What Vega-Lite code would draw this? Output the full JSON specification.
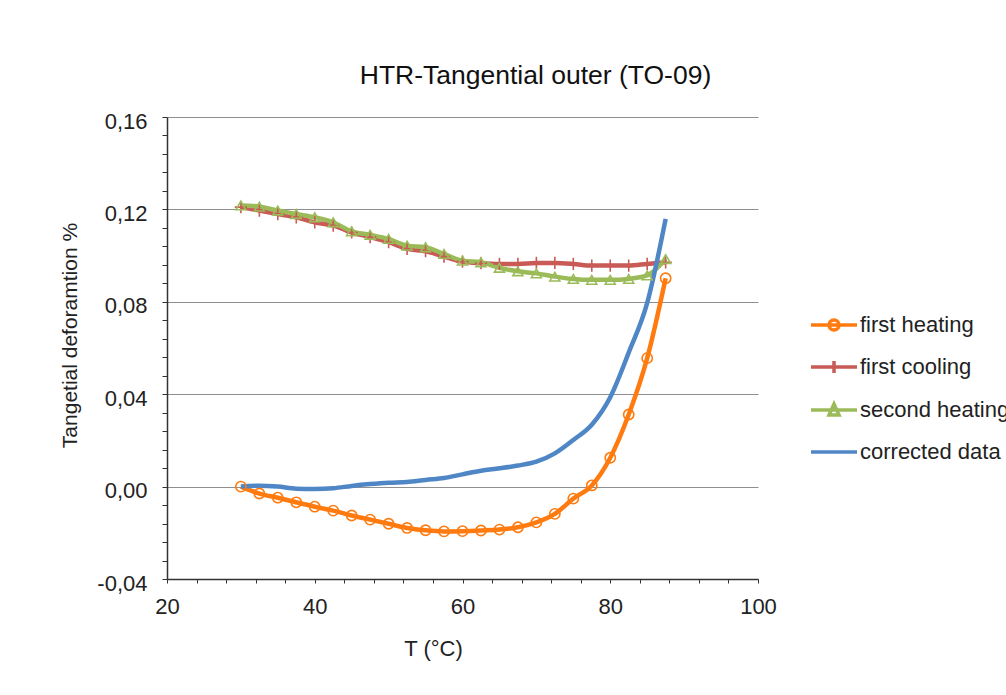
{
  "$schema": "https://vega.github.io/schema/vega-lite/v6.json",
  "width": 591,
  "height": 462,
  "autosize": {"type": "none"},
  "padding": {"left": 167, "top": 117, "right": 248, "bottom": 116},
  "background": "white",
  "config": {
    "view": {"stroke": null},
    "font": "Liberation Sans"
  },
  "title": {
    "text": "HTR-Tangential outer (TO-09)",
    "fontSize": 26.5,
    "fontWeight": "normal",
    "color": "#111",
    "font": "Liberation Sans",
    "anchor": "middle",
    "dx": 73,
    "offset": 21
  },
  "data": {
    "values": [
      {"T": 30, "v": 0.0000, "s": "first heating"},
      {"T": 32.5, "v": -0.0030, "s": "first heating"},
      {"T": 35, "v": -0.0048, "s": "first heating"},
      {"T": 37.5, "v": -0.0068, "s": "first heating"},
      {"T": 40, "v": -0.0087, "s": "first heating"},
      {"T": 42.5, "v": -0.0104, "s": "first heating"},
      {"T": 45, "v": -0.0125, "s": "first heating"},
      {"T": 47.5, "v": -0.0143, "s": "first heating"},
      {"T": 50, "v": -0.0161, "s": "first heating"},
      {"T": 52.5, "v": -0.0179, "s": "first heating"},
      {"T": 55, "v": -0.0189, "s": "first heating"},
      {"T": 57.5, "v": -0.0194, "s": "first heating"},
      {"T": 60, "v": -0.0193, "s": "first heating"},
      {"T": 62.5, "v": -0.0190, "s": "first heating"},
      {"T": 65, "v": -0.0186, "s": "first heating"},
      {"T": 67.5, "v": -0.0176, "s": "first heating"},
      {"T": 70, "v": -0.0155, "s": "first heating"},
      {"T": 72.5, "v": -0.0118, "s": "first heating"},
      {"T": 75, "v": -0.0052, "s": "first heating"},
      {"T": 77.5, "v": 0.0005, "s": "first heating"},
      {"T": 80, "v": 0.0125, "s": "first heating"},
      {"T": 82.5, "v": 0.0312, "s": "first heating"},
      {"T": 85, "v": 0.0556, "s": "first heating"},
      {"T": 87.5, "v": 0.0902, "s": "first heating"},

      {"T": 30, "v": 0.1210, "s": "first cooling"},
      {"T": 32.5, "v": 0.1195, "s": "first cooling"},
      {"T": 35, "v": 0.1180, "s": "first cooling"},
      {"T": 37.5, "v": 0.1166, "s": "first cooling"},
      {"T": 40, "v": 0.1144, "s": "first cooling"},
      {"T": 42.5, "v": 0.1130, "s": "first cooling"},
      {"T": 45, "v": 0.1100, "s": "first cooling"},
      {"T": 47.5, "v": 0.1080, "s": "first cooling"},
      {"T": 50, "v": 0.1058, "s": "first cooling"},
      {"T": 52.5, "v": 0.1029, "s": "first cooling"},
      {"T": 55, "v": 0.1019, "s": "first cooling"},
      {"T": 57.5, "v": 0.0996, "s": "first cooling"},
      {"T": 60, "v": 0.0974, "s": "first cooling"},
      {"T": 62.5, "v": 0.0967, "s": "first cooling"},
      {"T": 65, "v": 0.0964, "s": "first cooling"},
      {"T": 67.5, "v": 0.0964, "s": "first cooling"},
      {"T": 70, "v": 0.0968, "s": "first cooling"},
      {"T": 72.5, "v": 0.0968, "s": "first cooling"},
      {"T": 75, "v": 0.0964, "s": "first cooling"},
      {"T": 77.5, "v": 0.0957, "s": "first cooling"},
      {"T": 80, "v": 0.0957, "s": "first cooling"},
      {"T": 82.5, "v": 0.0957, "s": "first cooling"},
      {"T": 85, "v": 0.0964, "s": "first cooling"},
      {"T": 87.5, "v": 0.0971, "s": "first cooling"},

      {"T": 30, "v": 0.1217, "s": "second heating"},
      {"T": 32.5, "v": 0.1212, "s": "second heating"},
      {"T": 35, "v": 0.1195, "s": "second heating"},
      {"T": 37.5, "v": 0.1180, "s": "second heating"},
      {"T": 40, "v": 0.1166, "s": "second heating"},
      {"T": 42.5, "v": 0.1144, "s": "second heating"},
      {"T": 45, "v": 0.1105, "s": "second heating"},
      {"T": 47.5, "v": 0.1090, "s": "second heating"},
      {"T": 50, "v": 0.1072, "s": "second heating"},
      {"T": 52.5, "v": 0.1043, "s": "second heating"},
      {"T": 55, "v": 0.1036, "s": "second heating"},
      {"T": 57.5, "v": 0.1007, "s": "second heating"},
      {"T": 60, "v": 0.0978, "s": "second heating"},
      {"T": 62.5, "v": 0.0971, "s": "second heating"},
      {"T": 65, "v": 0.0947, "s": "second heating"},
      {"T": 67.5, "v": 0.0932, "s": "second heating"},
      {"T": 70, "v": 0.0923, "s": "second heating"},
      {"T": 72.5, "v": 0.0909, "s": "second heating"},
      {"T": 75, "v": 0.0899, "s": "second heating"},
      {"T": 77.5, "v": 0.0895, "s": "second heating"},
      {"T": 80, "v": 0.0895, "s": "second heating"},
      {"T": 82.5, "v": 0.0899, "s": "second heating"},
      {"T": 85, "v": 0.0914, "s": "second heating"},
      {"T": 87.5, "v": 0.0985, "s": "second heating"},

      {"T": 30, "v": 0.0000, "s": "corrected data"},
      {"T": 32.5, "v": 0.0004, "s": "corrected data"},
      {"T": 35, "v": 0.0000, "s": "corrected data"},
      {"T": 37.5, "v": -0.0009, "s": "corrected data"},
      {"T": 40, "v": -0.0010, "s": "corrected data"},
      {"T": 42.5, "v": -0.0007, "s": "corrected data"},
      {"T": 45, "v": 0.0003, "s": "corrected data"},
      {"T": 47.5, "v": 0.0011, "s": "corrected data"},
      {"T": 50, "v": 0.0017, "s": "corrected data"},
      {"T": 52.5, "v": 0.0020, "s": "corrected data"},
      {"T": 55, "v": 0.0029, "s": "corrected data"},
      {"T": 57.5, "v": 0.0037, "s": "corrected data"},
      {"T": 60, "v": 0.0053, "s": "corrected data"},
      {"T": 62.5, "v": 0.0069, "s": "corrected data"},
      {"T": 65, "v": 0.0079, "s": "corrected data"},
      {"T": 67.5, "v": 0.0091, "s": "corrected data"},
      {"T": 70, "v": 0.0108, "s": "corrected data"},
      {"T": 72.5, "v": 0.0144, "s": "corrected data"},
      {"T": 75, "v": 0.0202, "s": "corrected data"},
      {"T": 77.5, "v": 0.0268, "s": "corrected data"},
      {"T": 80, "v": 0.0387, "s": "corrected data"},
      {"T": 82.5, "v": 0.0580, "s": "corrected data"},
      {"T": 85, "v": 0.0795, "s": "corrected data"},
      {"T": 87.5, "v": 0.1159, "s": "corrected data"}
    ]
  },
  "encoding": {
    "x": {
      "field": "T",
      "type": "quantitative",
      "scale": {"domain": [20, 100], "nice": false, "zero": false},
      "axis": {
        "title": "T (°C)",
        "values": [20, 24, 28, 32, 36, 40, 44, 48, 52, 56, 60, 64, 68, 72, 76, 80, 84, 88, 92, 96, 100],
        "labelExpr": "datum.value % 20 === 0 ? datum.label : ''",
        "labelFlush": false,
        "grid": false,
        "domainColor": "#333",
        "domainWidth": 1.5,
        "tickColor": "#333",
        "tickSize": 4,
        "labelFontSize": 22,
        "labelColor": "#222",
        "labelPadding": 13,
        "labelFont": "Liberation Sans",
        "titleFont": "Liberation Sans",
        "titleFontSize": 22,
        "titleFontWeight": "normal",
        "titleColor": "#222",
        "titlePadding": 21,
        "titleX": 266
      }
    },
    "y": {
      "field": "v",
      "type": "quantitative",
      "scale": {"domain": [-0.04, 0.16], "nice": false, "zero": false},
      "axis": {
        "title": "Tangetial deforamtion %",
        "values": [-0.04, -0.032, -0.024, -0.016, -0.008, 0, 0.008, 0.016, 0.024, 0.032, 0.04, 0.048, 0.056, 0.064, 0.072, 0.08, 0.088, 0.096, 0.104, 0.112, 0.12, 0.128, 0.136, 0.144, 0.152, 0.16],
        "labelExpr": "abs(datum.value/0.04 - round(datum.value/0.04)) < 0.01 ? replace(replace(format(datum.value, '.2f'), '.', ','), '\u2212', '-') : ''",
        "labelFlush": false,
        "labelOffset": 4,
        "grid": true,
        "gridColor": {"condition": {"test": "abs(datum.value/0.04 - round(datum.value/0.04)) < 0.01", "value": "#8f8f8f"}, "value": "transparent"},
        "gridWidth": 1.2,
        "domainColor": "#333",
        "domainWidth": 1.5,
        "tickColor": "#333",
        "tickSize": 5,
        "labelFontSize": 22,
        "labelColor": "#222",
        "labelPadding": 15,
        "labelFont": "Liberation Sans",
        "titleFont": "Liberation Sans",
        "titleFontSize": 21,
        "titleFontWeight": "normal",
        "titleColor": "#222",
        "titlePadding": 16,
        "titleY": 218
      }
    }
  },
  "layer": [
    {
      "mark": {"type": "line", "strokeWidth": 4.5, "interpolate": "monotone"},
      "encoding": {
        "color": {
          "field": "s",
          "type": "nominal",
          "scale": {
            "domain": ["first heating", "first cooling", "second heating", "corrected data"],
            "range": ["#FF7B0F", "#C95A55", "#9BBB59", "#4F86C6"]
          },
          "legend": {
            "title": null,
            "orient": "none",
            "legendX": 645,
            "legendY": 186,
            "symbolSize": 1600,
            "symbolStrokeWidth": 3.5,
            "labelFontSize": 22,
            "labelColor": "#222",
            "labelFont": "Liberation Sans",
            "labelOffset": 4,
            "rowPadding": 8,
            "labelLimit": 300,
            "encode": {
              "symbols": {
                "update": {
                  "shape": {"signal": "datum.value === 'first heating' ? 'M-1.15,0H1.15M-0.25,0A0.25,0.25 0 1,0 0.25,0A0.25,0.25 0 1,0 -0.25,0' : datum.value === 'first cooling' ? 'M-1.15,0H1.15M0,-0.3V0.3' : datum.value === 'second heating' ? 'M-1.15,0H1.15M0,-0.3L0.25,0.25L-0.25,0.25Z' : 'M-1.15,0H1.15'"},
                  "fill": {"value": "transparent"},
                  "strokeWidth": {"value": 3.5}
                }
              }
            }
          }
        },
        "order": {"field": "T", "type": "quantitative"}
      }
    },
    {
      "transform": [{"filter": "datum.s === 'first heating'"}],
      "mark": {"type": "point", "shape": "circle", "size": 105, "filled": false, "stroke": "#FF7B0F", "strokeWidth": 1.6, "opacity": 1}
    },
    {
      "transform": [{"filter": "datum.s === 'first cooling'"}],
      "mark": {"type": "point", "shape": "M0,-1V1M-1,0H1", "size": 150, "filled": false, "stroke": "#C95A55", "strokeWidth": 1.6, "opacity": 1}
    },
    {
      "transform": [{"filter": "datum.s === 'second heating'"}],
      "mark": {"type": "point", "shape": "triangle-up", "size": 100, "filled": false, "stroke": "#9BBB59", "strokeWidth": 1.6, "opacity": 1}
    }
  ]
}
